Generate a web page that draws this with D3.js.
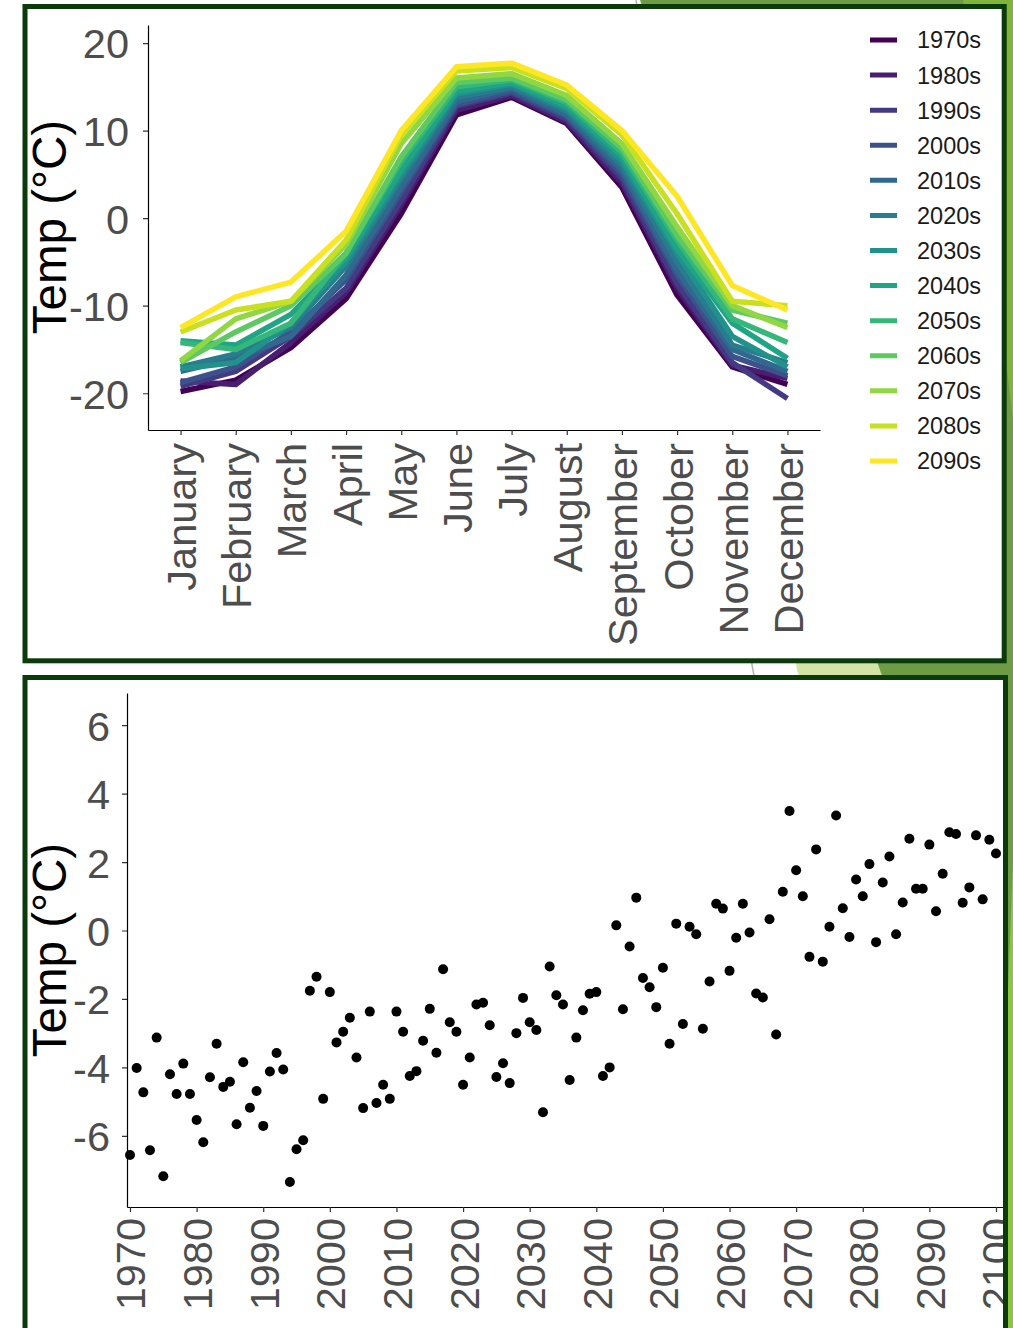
<!DOCTYPE html>
<html>
<head>
<meta charset="utf-8">
<script src="https://cdn.jsdelivr.net/npm/d3@7"></script>
<style>
  body { margin: 0; background: #fff; }
  svg { display: block; font-family: "Liberation Sans", Arial, sans-serif; }
</style>
</head>
<body>
<div id="d3-container"></div>
<script>
/**
 * DATA
 * */
const months = ["January", "February", "March", "April", "May", "June",
  "July", "August", "September", "October", "November", "December"];

const decades = ["1970s", "1980s", "1990s", "2000s", "2010s", "2020s", "2030s",
  "2040s", "2050s", "2060s", "2070s", "2080s", "2090s"];

// mean monthly temp per decade, Jan..Dec (one row per decade above)
const monthlyTemps = [
  [-19.8, -18.5, -14.8, -9.2, 0.5, 11.8, 13.8, 10.8, 3.5, -8.8, -17.0, -19.0],
  [-18.6, -19.0, -14.2, -8.5, 1.5, 12.3, 14.0, 11.0, 4.0, -8.0, -16.8, -18.3],
  [-19.2, -17.5, -13.5, -8.0, 2.0, 12.8, 14.3, 11.3, 4.5, -7.5, -16.5, -20.6],
  [-18.8, -17.0, -13.0, -7.0, 3.0, 13.0, 14.5, 11.6, 5.0, -6.5, -15.8, -18.0],
  [-17.5, -16.0, -13.5, -6.5, 3.5, 13.3, 14.8, 11.8, 5.5, -6.0, -15.0, -17.5],
  [-17.0, -15.5, -12.5, -5.5, 4.5, 13.8, 15.0, 12.2, 6.0, -5.0, -14.5, -16.5],
  [-17.2, -16.5, -12.0, -5.0, 5.0, 14.2, 15.3, 12.5, 6.5, -4.0, -13.5, -17.0],
  [-14.0, -14.5, -11.0, -4.5, 5.5, 14.5, 15.5, 12.8, 7.0, -3.5, -12.0, -16.0],
  [-14.2, -15.0, -12.0, -4.0, 6.5, 15.0, 15.8, 13.2, 7.5, -2.5, -11.5, -14.2],
  [-16.5, -13.0, -10.0, -4.0, 7.0, 15.5, 16.0, 13.5, 8.0, -2.0, -10.5, -12.0],
  [-16.3, -11.5, -9.5, -3.0, 8.5, 16.0, 16.5, 14.0, 8.5, -1.0, -10.0, -12.5],
  [-13.0, -10.5, -9.5, -2.5, 9.5, 16.8, 17.2, 14.8, 9.5, 0.5, -9.5, -10.0],
  [-12.5, -9.0, -7.3, -1.5, 10.0, 17.3, 17.7, 15.2, 10.0, 2.5, -7.7, -10.5]
];

// annual mean temp, one value per year starting at firstYear
const firstYear = 1970;
const annualTemps = [
  -6.56, -4.02, -4.73, -6.42, -3.13, -7.18, -4.20, -4.78, -3.89, -4.78,
  -5.54, -6.19, -4.29, -3.31, -4.57, -4.42, -5.66, -3.85, -5.18, -4.69,
  -5.71, -4.12, -3.58, -4.06, -7.35, -6.39, -6.13, -1.76, -1.35, -4.92,
  -1.80, -3.27, -2.96, -2.55, -3.71, -5.19, -2.37, -5.04, -4.51, -4.92,
  -2.37, -2.96, -4.25, -4.11, -3.22, -2.29, -3.57, -1.13, -2.68, -2.96,
  -4.51, -3.71, -2.16, -2.11, -2.77, -4.28, -3.88, -4.46, -3.00, -1.97,
  -2.68, -2.91, -5.31, -1.05, -1.89, -2.16, -4.37, -3.13, -2.33, -1.85,
  -1.80, -4.25, -4.00, 0.15, -2.30, -0.47, 0.96, -1.39, -1.66, -2.24,
  -1.09, -3.31, 0.20, -2.73, 0.11, -0.11, -2.87, -1.49, 0.78, 0.64,
  -1.18, -0.21, 0.78, -0.06, -1.84, -1.96, 0.33, -3.04, 1.13, 3.49,
  1.76, 1.00, -0.77, 2.37, -0.91, 0.11, 3.36, 0.65, -0.19, 1.49,
  1.00, 1.94, -0.34, 1.40, 2.16, -0.11, 0.82, 2.68, 1.22, 1.22,
  2.51, 0.56, 1.66, 2.87, 2.82, 0.81, 1.26, 2.78, 0.91, 2.65,
  2.25
];

const topTempTicks = [-20, -10, 0, 10, 20];
const bottomTempTicks = [-6, -4, -2, 0, 2, 4, 6];
const yearTicks = [1970, 1980, 1990, 2000, 2010, 2020, 2030, 2040, 2050, 2060, 2070, 2080, 2090, 2100];

/**
 * CONSTANTS AND GLOBALS
 * */
const width = 1013,
  height = 1328;

const frameColor = "#0b3a0b";
const labelColor = "#4d4d4d";
const fontSize = 41.5;

let svg;

/**
 * INIT
 * */
function init() {
  svg = d3.select("#d3-container")
    .append("svg")
    .attr("width", width)
    .attr("height", height);

  drawBackground();

  // clip areas = inside of the two frames
  const defs = svg.append("defs");
  defs.append("clipPath").attr("id", "clipTop")
    .append("rect").attr("x", 27.5).attr("y", 9).attr("width", 974).attr("height", 649.5);
  defs.append("clipPath").attr("id", "clipBottom")
    .append("rect").attr("x", 27.5).attr("y", 680).attr("width", 975.5).attr("height", 700);

  svg.append("rect")
    .attr("x", 25).attr("y", 6.5).attr("width", 979.2).attr("height", 654.3)
    .attr("fill", "#fff");
  svg.append("rect")
    .attr("x", 25).attr("y", 677.5).attr("width", 980.5).attr("height", 700)
    .attr("fill", "#fff");

  drawMonthly(svg.append("g").attr("clip-path", "url(#clipTop)"));
  drawAnnual(svg.append("g").attr("clip-path", "url(#clipBottom)"));

  // frames on top
  svg.append("rect")
    .attr("x", 25).attr("y", 6.5).attr("width", 979.2).attr("height", 654.3)
    .attr("fill", "none").attr("stroke", frameColor).attr("stroke-width", 5);
  svg.append("rect")
    .attr("x", 25).attr("y", 677.5).attr("width", 980.5).attr("height", 700)
    .attr("fill", "none").attr("stroke", frameColor).attr("stroke-width", 5);
}

// slide decoration behind the frames
function drawBackground() {
  const bg = svg.append("g");
  bg.append("polygon")
    .attr("points", "700,0 1013,0 1013,1300 797,670")
    .attr("fill", "#d3e4a6");
  bg.append("polygon")
    .attr("points", "640,0 1013,0 1013,1041 880,670")
    .attr("fill", "#6e9c45");
  bg.append("rect")
    .attr("x", 1000).attr("y", 0).attr("width", 13).attr("height", height)
    .attr("fill", "#6e9c45");
  bg.append("polygon")
    .attr("points", "963,0 1013,0 1013,420")
    .attr("fill", "#80b53a");
  bg.append("polygon")
    .attr("points", "1013,860 1013,1328 995,1328")
    .attr("fill", "#8cc63f");
  bg.append("line")
    .attr("x1", 636).attr("y1", 0).attr("x2", 754).attr("y2", 676)
    .attr("stroke", "#b5b5b5").attr("stroke-width", 1.5);
}

function styleAxis(g) {
  g.select(".domain").attr("stroke", "#000").attr("stroke-width", 1.2);
  g.selectAll(".tick line").attr("stroke", "#333").attr("stroke-width", 1.2);
  g.selectAll(".tick text")
    .attr("fill", labelColor)
    .attr("font-size", fontSize)
    .attr("font-family", "Liberation Sans, Arial, sans-serif");
}

function yTitle(g, cy) {
  g.append("text")
    .attr("transform", `translate(66, ${cy}) rotate(-90)`)
    .attr("text-anchor", "middle")
    .attr("font-size", 47.5)
    .attr("fill", "#000")
    .text("Temp (°C)");
}

/**
 * TOP: monthly lines per decade
 * */
function drawMonthly(g) {
  const x = d3.scalePoint().domain(months).range([148, 820]).padding(0.59);
  const y = d3.scaleLinear().domain([-24.2, 22.06]).range([430, 25]);
  const color = d3.scaleOrdinal()
    .domain(decades)
    .range(decades.map((d, i) => d3.interpolateViridis(i / (decades.length - 1))));

  const series = decades.map((d, i) => ({
    decade: d,
    values: months.map((m, j) => ({ month: m, temp: monthlyTemps[i][j] }))
  }));

  const line = d3.line()
    .x(d => x(d.month))
    .y(d => y(d.temp));

  g.append("g")
    .selectAll("path")
    .data(series)
    .join("path")
    .attr("d", d => line(d.values))
    .attr("fill", "none")
    .attr("stroke", d => color(d.decade))
    .attr("stroke-width", 5.5)
    .attr("stroke-linejoin", "round");

  g.append("g")
    .attr("transform", "translate(148,0)")
    .call(d3.axisLeft(y).tickValues(topTempTicks).tickSize(5).tickSizeOuter(0).tickPadding(14)
      .tickFormat(d => String(d)))
    .call(styleAxis)
    .call(a => a.selectAll(".tick text").attr("dy", "0.36em"));

  g.append("g")
    .attr("transform", "translate(0,430)")
    .call(d3.axisBottom(x).tickSize(5).tickSizeOuter(0).tickPadding(8))
    .call(styleAxis)
    .call(a => a.selectAll(".tick text")
      .attr("transform", "rotate(-90)")
      .attr("text-anchor", "end")
      .attr("x", -13)
      .attr("y", 0)
      .attr("dy", "0.36em"));

  yTitle(g, 227);

  // legend
  const legend = g.append("g")
    .selectAll("g")
    .data(decades)
    .join("g")
    .attr("transform", (d, i) => `translate(870, ${40 + i * 35.08})`);

  legend.append("line")
    .attr("x1", 0).attr("x2", 27)
    .attr("stroke", d => color(d))
    .attr("stroke-width", 5);

  legend.append("text")
    .attr("x", 47)
    .attr("dy", "0.36em")
    .attr("font-size", 23.5)
    .attr("fill", "#1a1a1a")
    .text(d => d);
}

/**
 * BOTTOM: annual scatter
 * */
function drawAnnual(g) {
  const points = annualTemps.map((t, i) => ({ year: firstYear + i, temp: t }));

  const x = d3.scaleLinear().domain([1969.55, 2110]).range([127, 127 + 140.45 * 6.6615]);
  const y = d3.scaleLinear().domain([-8.08, 6.94]).range([1207, 693]);

  g.append("g")
    .selectAll("circle")
    .data(points)
    .join("circle")
    .attr("cx", d => x(d.year))
    .attr("cy", d => y(d.temp))
    .attr("r", 5)
    .attr("fill", "#000");

  g.append("g")
    .attr("transform", "translate(127,0)")
    .call(d3.axisLeft(y).tickValues(bottomTempTicks).tickSize(5).tickSizeOuter(0).tickPadding(12)
      .tickFormat(d => String(d)))
    .call(styleAxis)
    .call(a => a.selectAll(".tick text").attr("dy", "0.36em"));

  g.append("g")
    .attr("transform", "translate(0,1207)")
    .call(d3.axisBottom(x).tickValues(yearTicks).tickSize(5).tickSizeOuter(0).tickPadding(6)
      .tickFormat(d => String(d)))
    .call(styleAxis)
    .call(a => a.selectAll(".tick text")
      .attr("transform", "rotate(-90)")
      .attr("text-anchor", "end")
      .attr("x", -11)
      .attr("y", 0)
      .attr("dy", "0.36em"));

  yTitle(g, 950);
}

init();
</script>
</body>
</html>
